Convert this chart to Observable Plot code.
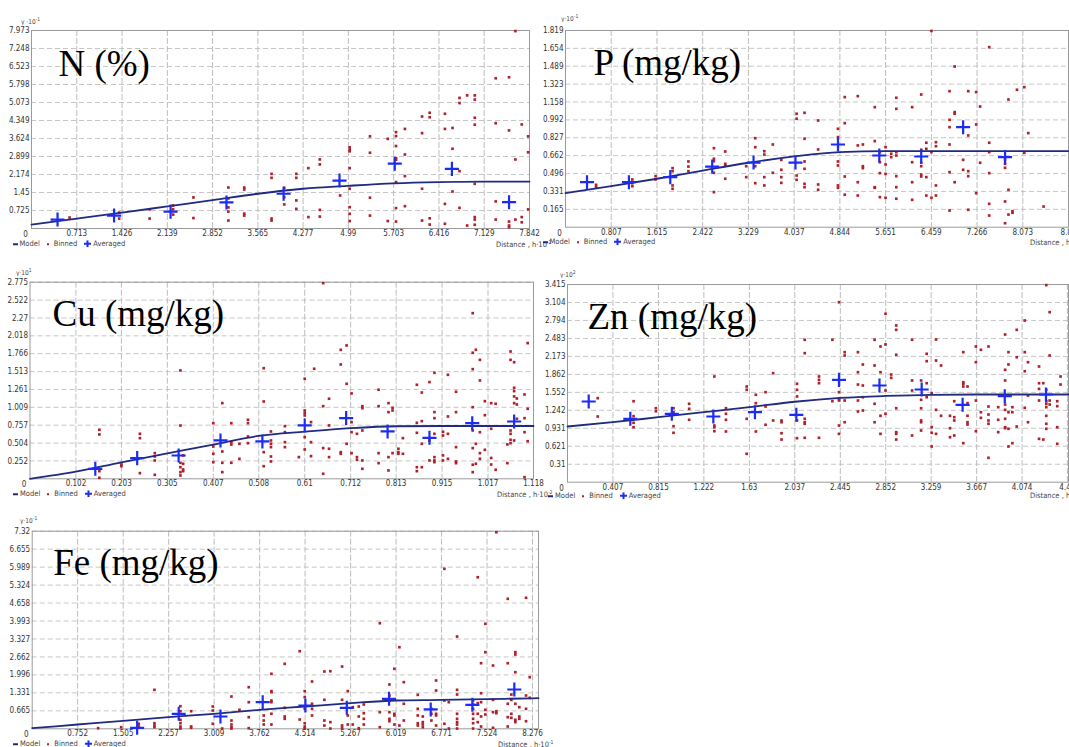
<!DOCTYPE html>
<html><head><meta charset="utf-8">
<script src="https://cdn.jsdelivr.net/npm/d3@7"></script>
<script src="https://cdn.jsdelivr.net/npm/@observablehq/plot@0.6"></script>
<style>
body{margin:0;background:#fff;}
#root{position:relative;width:1069px;height:747px;overflow:hidden;background:#fff;}
.panel{position:absolute;}
.lbl{position:absolute;font-family:"Liberation Sans Narrow","DejaVu Sans Condensed","Liberation Sans",sans-serif;font-size:7.5px;color:#444;white-space:nowrap;line-height:1;transform:translateY(-50%);}
.legend{display:flex;align-items:center;}
</style>
</head><body><div id="root"></div>
<script>
const FONT = '"Liberation Sans Narrow","DejaVu Sans Condensed","Liberation Sans",sans-serif';

// ---------- N (%) ----------
const nXTicks = ["0.713","1.426","2.139","2.852","3.565","4.277","4.99","5.703","6.416","7.129","7.842"];
const nYTicks = ["0.725","1.45","2.174","2.899","3.624","4.349","5.073","5.798","6.523","7.248","7.973"];
const nModelX = [0,0.713,1.426,2.139,2.852,3.565,4.277,4.99,5.703,6.416,7.129,7.842];
const nModelY = [0.16,0.40,0.64,0.89,1.14,1.40,1.60,1.72,1.82,1.87,1.89,1.89];
const nAveraged = [[0.41,0.36],[1.30,0.52],[2.19,0.68],[3.07,1.05],[3.97,1.40],[4.85,1.93],[5.72,2.61],[6.62,2.40],[7.52,1.06]];
const nBinned = [[0.60,0.44],[1.38,0.64],[1.38,0.40],[1.86,0.77],[1.86,0.40],[2.23,0.93],[2.23,0.77],[2.23,0.56],[2.55,1.25],[2.55,0.42],[3.10,1.65],[3.10,1.21],[3.10,0.85],[3.10,0.68],[3.10,0.32],[3.35,1.65],[3.35,1.57],[3.35,0.60],[3.35,0.52],
[3.78,2.20],[3.78,2.04],[3.78,0.40],[3.78,0.32],[3.98,1.64],[3.98,1.26],[3.98,0.97],[4.17,2.20],[4.17,2.04],[4.17,1.13],[4.17,0.79],[4.36,2.43],[4.36,0.46],[4.54,2.78],[4.54,2.58],[4.54,0.75],[4.54,0.48],[4.86,1.33],[5.01,3.27],[5.01,3.18],[5.01,3.11],[5.01,2.43],[5.01,1.60],[5.01,0.86],[5.01,0.59],[5.01,0.30],[5.33,3.71],[5.33,3.05],[5.33,1.24],[5.33,0.52],[5.61,3.61],[5.61,0.30],[5.74,3.88],[5.74,3.72],[5.74,3.32],[5.74,2.83],[5.74,2.77],[5.74,1.87],[5.74,0.82],[5.74,0.28],[5.88,4.01],[5.88,2.98],[5.88,2.11],[5.88,0.90],[6.15,4.51],[6.15,3.84],[6.15,1.60],[6.15,0.32],[6.27,4.66],[6.27,4.48],[6.27,0.41],[6.27,0.16],[6.51,4.62],[6.51,4.01],[6.51,0.99],[6.51,0.19],[6.63,4.05],[6.63,3.21],[6.63,1.49],[6.74,5.26],[6.74,5.05],[6.74,2.31],[6.74,0.83],[6.86,5.36],[6.86,0.12],[6.98,5.36],[6.98,5.19],[6.98,4.46],[6.98,4.18],[6.98,1.80],[6.98,0.46],[6.98,0.36],[6.98,0.15],[7.31,6.05],[7.31,4.24],[7.31,1.09],[7.31,0.36],[7.52,6.09],[7.52,3.95],[7.52,0.28],[7.52,0.12],[7.52,0.05],[7.62,7.95],[7.62,2.78],[7.62,0.36],[7.72,4.19],[7.72,0.46],[7.72,0.25],[7.82,3.71],[7.82,3.07],[7.82,0.77]];

// ---------- P (mg/kg) ----------
const pXTicks = ["0.807","1.615","2.422","3.229","4.037","4.844","5.651","6.459","7.266","8.073","8.88"];
const pYTicks = ["0.165","0.331","0.496","0.662","0.827","0.992","1.158","1.323","1.489","1.654","1.819"];
const pModelX = [0,0.807,1.615,2.422,3.229,4.037,4.844,5.651,6.459,7.266,8.073,8.88];
const pModelY = [0.315,0.379,0.448,0.524,0.596,0.654,0.694,0.703,0.703,0.703,0.703,0.703];
const pAveraged = [[0.38,0.416],[1.12,0.416],[1.85,0.463],[2.59,0.561],[3.32,0.598],[4.06,0.598],[4.81,0.765],[5.54,0.663],[6.28,0.654],[7.02,0.925],[7.76,0.648]];
const pBinned = [[0.54,0.392],[0.54,0.370],[1.18,0.441],[1.18,0.407],[1.18,0.379],[1.59,0.472],[1.59,0.441],[1.89,0.546],[1.89,0.518],[1.89,0.386],[1.89,0.355],[2.17,0.608],[2.17,0.561],[2.17,0.518],[2.62,0.731],[2.62,0.633],[2.62,0.611],[2.62,0.503],[2.62,0.324],[2.82,0.700],[2.82,0.586],[2.82,0.571],[2.82,0.448],[3.19,0.564],[3.19,0.463],[3.35,0.823],[3.35,0.740],[3.35,0.564],[3.35,0.407],[3.51,0.703],[3.51,0.672],[3.51,0.463],[3.51,0.386],[3.66,0.765],[3.66,0.503],[3.81,0.623],[3.81,0.531],[3.81,0.463],[3.81,0.410],[4.08,1.049],[4.08,1.003],[4.08,0.478],[4.08,0.438],[4.22,1.058],[4.22,0.818],[4.22,0.608],[4.22,0.540],[4.22,0.401],[4.22,0.370],
[4.46,0.987],[4.46,0.719],[4.46,0.395],[4.46,0.346],[4.81,0.910],[4.81,0.833],[4.81,0.608],[4.81,0.571],[4.81,0.386],[4.81,0.364],[4.93,1.203],[4.93,0.962],[4.93,0.469],[4.93,0.300],[5.16,1.212],[5.16,0.756],[5.16,0.416],[5.16,0.293],[5.25,0.765],[5.25,0.564],[5.25,0.546],[5.46,1.110],[5.46,0.796],[5.46,0.370],[5.46,0.364],[5.55,0.694],[5.55,0.601],[5.55,0.500],[5.55,0.278],[5.65,0.740],[5.65,0.580],[5.65,0.493],[5.65,0.272],[5.75,0.679],[5.75,0.648],[5.84,1.197],[5.84,1.095],[5.84,0.694],[5.84,0.663],[5.84,0.472],[5.84,0.370],[5.84,0.263],[6.12,1.110],[6.12,0.601],[6.12,0.416],[6.12,0.253],[6.28,1.227],[6.28,0.716],[6.28,0.596],[6.28,0.564],[6.28,0.487],[6.28,0.469],[6.37,0.781],[6.37,0.725],[6.37,0.463],[6.37,0.293],[6.46,1.815],[6.46,0.694],[6.46,0.272],[6.54,0.786],[6.54,0.749],[6.54,0.386],[6.54,0.293],[6.78,1.258],[6.78,0.993],[6.78,0.925],[6.78,0.765],[6.78,0.509],[6.78,0.154],[6.87,1.486],[6.87,1.064],[6.87,1.049],[6.87,0.416],[7.02,0.623],[7.02,0.531],[7.11,1.258],[7.11,0.848],[7.11,0.518],[7.11,0.472],[7.11,0.161],[7.25,1.249],[7.25,0.950],[7.25,0.315],[7.32,1.116],[7.32,0.596],[7.48,1.665],[7.48,0.781],[7.48,0.694],[7.48,0.500],[7.48,0.216],[7.48,0.108],[7.76,0.626],[7.76,0.586],[7.76,0.549],[7.76,0.238],[7.76,0.037],[7.82,1.181],[7.82,0.346],[7.82,0.117],[7.89,0.148],[7.89,0.133],[7.97,1.271],[8.10,1.295],[8.10,0.688],[8.17,0.870],[8.44,0.191]];

// ---------- Cu (mg/kg) ----------
const cuXTicks = ["0.102","0.203","0.305","0.407","0.508","0.61","0.712","0.813","0.915","1.017","1.118"];
const cuYTicks = ["0.252","0.504","0.757","1.009","1.261","1.513","1.766","2.018","2.27","2.522","2.775"];
const cuModelX = [0,0.102,0.203,0.305,0.407,0.508,0.61,0.712,0.813,0.915,1.017,1.118];
const cuModelY = [0,0.10,0.233,0.358,0.483,0.605,0.665,0.715,0.742,0.745,0.745,0.745];
const cuAveraged = [[0.145,0.141],[0.238,0.292],[0.330,0.329],[0.423,0.541],[0.516,0.527],[0.610,0.753],[0.702,0.857],[0.794,0.668],[0.887,0.579],[0.982,0.785],[1.075,0.809]];
const cuBinned = [[0.154,0.692],[0.154,0.626],[0.154,0.108],[0.154,0.014],[0.203,0.202],[0.203,0.178],[0.244,0.635],[0.244,0.574],[0.244,0.080],[0.277,0.362],[0.277,0.315],[0.277,0.259],[0.277,0.056],[0.334,1.529],[0.334,0.752],[0.334,0.226],[0.334,0.164],[0.334,0.094],[0.334,0.047],[0.340,0.330],[0.340,0.212],[0.340,0.132],[0.340,0.108],[0.407,0.785],[0.407,0.456],[0.407,0.353],[0.407,0.235],[0.427,1.068],[0.427,0.386],[0.427,0.226],[0.427,0.094],[0.447,0.785],[0.447,0.517],[0.447,0.484],[0.447,0.226],[0.465,0.494],[0.465,0.282],[0.484,0.833],[0.484,0.785],[0.484,0.597],[0.484,0.503],[0.519,1.561],[0.519,1.091],[0.519,0.376],[0.519,0.178],
[0.535,0.668],[0.535,0.541],[0.535,0.494],[0.535,0.447],[0.535,0.315],[0.535,0.245],[0.566,0.743],[0.566,0.658],[0.566,0.517],[0.566,0.447],[0.597,0.306],[0.610,1.412],[0.610,0.964],[0.610,0.927],[0.610,0.894],[0.610,0.588],[0.610,0.414],[0.624,0.800],[0.624,0.517],[0.624,0.320],[0.631,1.553],[0.651,2.762],[0.651,1.025],[0.651,0.433],[0.651,0.071],[0.664,1.130],[0.664,0.753],[0.664,0.424],[0.664,0.306],[0.690,1.821],[0.690,1.614],[0.690,0.376],[0.690,0.353],[0.703,1.882],[0.703,1.341],[0.703,0.494],[0.714,1.205],[0.714,0.800],[0.714,0.658],[0.714,0.362],[0.726,0.635],[0.726,0.306],[0.726,0.268],[0.738,1.025],[0.738,0.997],[0.738,0.682],[0.738,0.259],[0.738,0.141],[0.774,1.257],[0.774,1.025],[0.774,0.362],[0.774,0.221],[0.796,1.068],[0.796,0.941],[0.796,0.306],[0.796,0.118],[0.805,1.002],[0.805,0.964],[0.805,0.362],[0.818,0.424],[0.818,0.376],[0.818,0.353],[0.828,0.574],[0.828,0.353],[0.859,1.327],[0.859,0.790],[0.859,0.649],[0.859,0.164],[0.859,0.108],[0.870,1.218],[0.870,0.814],[0.870,0.494],[0.870,0.164],[0.887,1.365],[0.887,0.541],[0.887,0.259],[0.898,1.496],[0.898,0.941],[0.898,0.856],[0.898,0.635],[0.898,0.306],[0.898,0.259],[0.898,0.235],[0.917,0.663],[0.917,0.611],[0.917,0.330],[0.917,0.259],[0.928,1.468],[0.928,0.880],[0.928,0.635],[0.928,0.282],[0.946,1.228],[0.946,0.941],[0.946,0.447],[0.946,0.245],[0.946,0.221],[0.983,2.338],[0.983,1.779],[0.983,1.548],[0.983,1.011],[0.983,0.682],[0.983,0.433],[0.983,0.198],[0.983,0.094],[0.990,1.821],[0.990,0.494],[0.990,0.212],[0.999,1.679],[0.999,1.388],[0.999,0.658],[0.999,0.362],[0.999,0.282],[1.010,1.096],[1.010,0.898],[1.010,0.409],[1.024,1.068],[1.024,0.706],[1.024,0.294],[1.024,0.202],[1.034,1.059],[1.034,0.127],[1.060,0.485],[1.060,0.221],[1.067,1.797],[1.067,1.679],[1.067,0.682],[1.067,0.635],[1.067,0.551],[1.067,0.503],[1.075,1.646],[1.075,1.285],[1.075,1.238],[1.075,1.163],[1.075,1.068],[1.075,0.541],[1.081,1.134],[1.081,1.049],[1.081,0.847],[1.098,1.190],[1.098,0.856],[1.098,0.658],[1.098,0.023],[1.105,1.915],[1.105,0.988],[1.105,0.531]];

// ---------- Zn (mg/kg) ----------
const znXTicks = ["0.407","0.815","1.222","1.63","2.037","2.445","2.852","3.259","3.667","4.074","4.48"];
const znYTicks = ["0.31","0.621","0.931","1.242","1.552","1.862","2.173","2.483","2.794","3.104","3.415"];
const znModelX = [0,0.407,0.815,1.222,1.63,2.037,2.445,2.852,3.259,3.667,4.074,4.48,4.49];
const znModelY = [0.962,1.036,1.123,1.209,1.296,1.39,1.456,1.49,1.51,1.515,1.515,1.515,1.515];
const znAveraged = [[0.190,1.394],[0.563,1.095],[0.935,1.181],[1.307,1.135],[1.680,1.209],[2.051,1.164],[2.433,1.768],[2.796,1.670],[3.174,1.601],[3.541,1.337],[3.919,1.486],[4.288,1.515]];
const znBinned = [[0.271,1.451],[0.271,1.135],[0.592,1.399],[0.592,1.140],[0.592,1.026],[0.592,0.950],[0.792,1.278],[0.792,1.226],[0.950,1.278],[0.950,1.209],[0.950,0.967],[0.950,0.853],[1.090,1.354],[1.090,1.268],[1.090,1.078],[1.316,1.826],[1.316,0.979],[1.316,0.950],[1.316,0.881],[1.420,1.278],[1.420,1.181],[1.420,1.078],[1.420,0.876],[1.606,1.653],[1.606,1.596],[1.606,1.095],[1.606,0.490],[1.688,1.510],[1.688,1.365],[1.688,0.876],[1.775,1.555],[1.775,1.307],[1.775,0.992],[1.843,1.883],[1.843,1.066],[1.918,1.066],[1.918,1.036],[1.918,0.846],[1.918,0.737],[2.057,1.700],[2.057,1.596],[2.057,1.481],[2.057,1.066],[2.057,0.760],[2.126,2.460],[2.126,2.229],[2.126,1.095],[2.126,1.036],[2.126,1.009],[2.126,0.767],
[2.254,1.826],[2.254,1.768],[2.254,1.710],[2.254,0.767],[2.374,2.460],[2.374,1.399],[2.433,3.109],[2.433,1.555],[2.433,1.440],[2.433,1.411],[2.433,0.979],[2.433,0.835],[2.484,2.246],[2.484,2.189],[2.484,1.411],[2.484,1.036],[2.603,2.246],[2.603,1.900],[2.603,1.687],[2.603,1.411],[2.603,1.221],[2.647,2.033],[2.647,1.670],[2.647,1.468],[2.647,1.238],[2.752,2.460],[2.752,2.016],[2.752,1.354],[2.752,1.036],[2.805,2.344],[2.805,1.900],[2.805,1.147],[2.805,0.835],[2.850,2.909],[2.850,2.379],[2.850,1.584],[2.850,1.181],[2.901,1.860],[2.901,1.803],[2.946,2.707],[2.946,2.632],[2.946,2.201],[2.946,1.278],[2.946,0.864],[2.946,0.835],[2.946,0.737],[3.088,2.460],[3.088,1.757],[3.088,1.584],[3.088,0.807],[3.169,1.757],[3.169,1.423],[3.169,1.278],[3.169,1.066],[3.169,1.036],[3.169,0.893],[3.219,2.218],[3.219,2.091],[3.219,1.710],[3.219,1.468],[3.264,1.538],[3.264,0.950],[3.264,0.853],[3.264,0.617],[3.303,2.465],[3.303,2.102],[3.303,1.250],[3.303,0.835],[3.348,2.016],[3.348,1.147],[3.428,1.147],[3.428,0.933],[3.428,0.777],[3.466,1.399],[3.466,1.123],[3.466,1.066],[3.466,0.807],[3.547,2.246],[3.547,1.727],[3.547,1.700],[3.547,1.653],[3.547,0.674],[3.585,1.653],[3.585,1.365],[3.585,1.147],[3.585,1.036],[3.585,0.997],[3.660,2.344],[3.660,2.073],[3.660,1.411],[3.660,0.881],[3.705,2.287],[3.705,1.209],[3.705,1.112],[3.773,2.344],[3.773,1.307],[3.773,1.169],[3.773,1.066],[3.773,1.009],[3.773,0.421],[3.860,1.296],[3.860,1.078],[3.860,0.864],[3.922,2.551],[3.922,1.941],[3.922,1.757],[3.922,1.342],[3.922,1.250],[3.922,1.095],[3.922,0.950],[3.922,0.933],[3.952,2.246],[3.952,2.033],[3.952,1.209],[3.952,0.922],[3.952,0.617],[3.987,1.296],[3.987,1.209],[3.987,0.674],[4.026,2.632],[4.026,2.159],[4.026,0.962],[4.098,2.793],[4.098,2.246],[4.098,1.917],[4.098,1.285],[4.127,2.073],[4.127,1.497],[4.127,1.036],[4.226,1.999],[4.226,1.710],[4.226,1.612],[4.226,1.411],[4.226,0.749],[4.264,1.710],[4.264,0.737],[4.291,3.405],[4.291,1.596],[4.291,1.399],[4.291,1.354],[4.291,1.296],[4.291,1.147],[4.291,1.009],[4.291,0.922],[4.321,2.937],[4.321,2.189],[4.321,1.411],[4.321,1.342],[4.389,1.399],[4.389,1.313],[4.389,0.950],[4.389,0.663],[4.419,1.826],[4.419,1.687]];

// ---------- Fe (mg/kg) ----------
const feXTicks = ["0.752","1.505","2.257","3.009","3.762","4.514","5.267","6.019","6.771","7.524","8.276"];
const feYTicks = ["0.665","1.331","1.996","2.662","3.327","3.993","4.658","5.324","5.989","6.655","7.32"];
const feModelX = [0,0.752,1.505,2.257,3.009,3.762,4.514,5.267,6.019,6.771,7.524,8.276,8.375];
const feModelY = [0.022,0.159,0.296,0.430,0.556,0.704,0.826,0.950,1.048,1.07,1.10,1.13,1.135];
const feAveraged = [[1.736,0.037],[2.424,0.556],[3.114,0.456],[3.813,0.985],[4.519,0.863],[5.204,0.778],[5.903,1.111],[6.592,0.716],[7.281,0.889],[7.975,1.456]];
const feBinned = [[1.091,0.022],[1.471,0.059],[1.763,0.185],[1.763,0.085],[2.022,1.444],[2.022,0.207],[2.022,0.122],[2.022,0.059],[2.452,0.837],[2.452,0.652],[2.452,0.333],[2.452,0.207],[2.452,0.085],[2.452,0.010],[2.629,0.652],[2.629,0.085],[2.629,0.037],[2.987,0.826],[2.987,0.678],[2.987,0.185],[3.142,0.010],[3.296,1.196],[3.296,0.307],[3.296,0.159],[3.296,0.059],[3.296,0.010],[3.428,0.704],[3.582,1.541],[3.582,0.985],[3.582,0.430],[3.582,0.022],[3.830,0.493],[3.830,0.307],[3.830,0.159],
[3.957,2.037],[3.957,1.395],[3.957,1.358],[3.957,1.048],[3.957,0.985],[3.957,0.556],[3.957,0.159],[4.177,2.407],[4.177,0.778],[4.177,0.456],[4.177,0.370],[4.425,2.874],[4.425,0.344],[4.508,1.395],[4.508,1.173],[4.508,0.741],[4.508,0.207],[4.508,0.085],[4.508,0.010],[4.629,1.752],[4.629,0.926],[4.629,0.741],[4.629,0.493],[4.833,2.122],[4.833,1.074],[4.833,0.307],[4.833,0.122],[4.932,2.133],[4.932,0.247],[4.932,0.010],[5.126,2.307],[5.126,1.074],[5.126,0.122],[5.126,0.037],[5.220,1.395],[5.220,0.493],[5.220,0.159],[5.303,0.800],[5.303,0.159],[5.402,0.826],[5.402,0.456],[5.402,0.022],[5.485,0.900],[5.485,0.578],[5.485,0.370],[5.485,0.159],[5.750,3.911],[5.750,0.615],[5.750,0.059],[5.909,1.641],[5.909,1.233],[5.909,1.048],[5.909,0.615],[5.909,0.370],[5.909,0.281],[5.991,2.222],[5.991,0.556],[5.991,0.493],[5.991,0.159],[6.074,3.022],[6.074,0.122],[6.147,1.728],[6.147,0.926],[6.147,0.307],[6.378,1.259],[6.378,0.741],[6.378,0.493],[6.378,0.207],[6.378,0.122],[6.461,0.456],[6.461,0.247],[6.461,0.159],[6.461,0.059],[6.603,0.741],[6.603,0.556],[6.603,0.307],[6.681,1.789],[6.681,1.418],[6.681,0.556],[6.681,0.493],[6.681,0.122],[6.818,5.926],[6.818,1.048],[6.818,0.185],[6.891,0.985],[6.891,0.010],[7.028,3.418],[7.028,1.444],[7.028,1.270],[7.028,0.556],[7.028,0.370],[7.028,0.247],[7.028,0.159],[7.028,0.010],[7.293,1.048],[7.293,0.900],[7.293,0.741],[7.293,0.556],[7.293,0.370],[7.293,0.207],[7.293,0.010],[7.370,5.615],[7.370,0.950],[7.370,0.556],[7.370,0.247],[7.425,2.430],[7.425,1.319],[7.425,0.985],[7.425,0.456],[7.425,0.085],[7.496,3.889],[7.496,2.838],[7.496,0.704],[7.496,0.530],[7.623,2.344],[7.623,1.074],[7.623,0.615],[7.623,0.037],[7.678,7.281],[7.678,0.652],[7.678,0.578],[7.866,4.815],[7.866,2.430],[7.866,0.926],[7.866,0.430],[7.866,0.085],[7.926,1.270],[7.926,1.074],[7.926,0.556],[7.926,0.407],[7.992,2.838],[7.992,2.752],[7.992,2.096],[7.992,0.926],[7.992,0.333],[7.992,0.247],[8.058,0.800],[8.058,0.456],[8.058,0.370],[8.169,4.852],[8.169,1.233],[8.169,0.741],[8.169,0.281],[8.230,1.911],[8.230,1.148]];

const NAVY = "#1f2a80", RED = "#b0202a", BLUE = "#1c2cf2";
const root = document.getElementById("root");

function addLabel(html, left, top, cls, size) {
  const d = document.createElement("div");
  d.className = "lbl" + (cls ? " " + cls : "");
  d.style.left = left + "px";
  d.style.top = top + "px";
  if (size) d.style.fontSize = size + "px";
  d.innerHTML = html;
  root.appendChild(d);
}

function panel(c) {
  const xT = c.xTicks.map(Number), yT = c.yTicks.map(Number);
  const model = c.modelX.map((x, i) => ({x, y: c.modelY[i]}));
  const fig = Plot.plot({
    width: c.width, height: c.height,
    marginLeft: c.mL, marginRight: c.mR, marginTop: c.mT, marginBottom: c.mB,
    x: {domain: [0, c.xMax], label: null},
    y: {domain: [0, c.yMax], label: null},
    style: {fontFamily: FONT, fontSize: "8px", color: "#333", overflow: "visible", background: "transparent"},
    marks: [
      Plot.gridY(yT, {stroke: "#c6c6c6", strokeOpacity: 1, strokeDasharray: "5,3"}),
      Plot.gridX(xT, {stroke: "#bdbdbd", strokeOpacity: 1, strokeDasharray: "6,2"}),
      Plot.frame({stroke: "#9a9a9a"}),
      Plot.axisX(xT, {tickSize: 0, tickPadding: 2, tickFormat: d => String(d), fill: "#333", fontSize: 8, label: null}),
      Plot.axisY(yT, {tickSize: 0, tickPadding: 2, tickFormat: d => String(d), fill: "#333", fontSize: 8, label: null}),
      Plot.text([{x: 0, y: 0, t: "0"}], {x: "x", y: "y", text: "t", dx: -6, dy: 6, fill: "#333", fontSize: 8}),
      Plot.text([c.title], {frameAnchor: "top-left", dx: c.tdx, dy: c.tdy, text: d => d, fontSize: 37,
        fontFamily: '"Liberation Serif","DejaVu Serif",serif', fill: "#000", textAnchor: "start", lineAnchor: "bottom"}),
      Plot.dot(c.binned, {x: d => d[0], y: d => d[1], symbol: "square", r: 1.5, fill: RED, stroke: null}),
      Plot.line(model, {x: "x", y: "y", stroke: NAVY, strokeWidth: 1.8, curve: "monotone-x"}),
      Plot.dot(c.avg, {x: d => d[0], y: d => d[1], symbol: "plus", r: 4.6, stroke: BLUE, strokeWidth: 2.2})
    ]
  });
  const wrap = document.createElement("div");
  wrap.className = "panel";
  wrap.style.left = c.left + "px";
  wrap.style.top = c.top + "px";
  wrap.style.width = c.width + "px";
  wrap.appendChild(fig);
  root.appendChild(wrap);

  addLabel(c.gamma, c.gx, c.gy, null, 6.5);
  addLabel('<span style="display:inline-block;width:5px;height:2px;background:' + NAVY + ';margin-right:2px"></span>Model' +
    '<span style="display:inline-block;width:2px;height:2px;background:' + RED + ';margin:0 5px 0 7px"></span>Binned' +
    '<svg width="7" height="7" style="margin:0 2px 0 7px"><path d="M3.5 0V7M0 3.5H7" stroke="' + BLUE + '" stroke-width="2"/></svg>Averaged',
    c.lx, c.ly, "legend");
  addLabel(c.dist, c.dx, c.dy);
}

panel({left: 0, top: 0, width: 535, height: 250, mL: 31, mR: 6, mT: 30, mB: 22,
  xMax: 7.842, yMax: 7.973, xTicks: nXTicks, yTicks: nYTicks, modelX: nModelX, modelY: nModelY,
  binned: nBinned, avg: nAveraged, title: "N (%)", tdx: 27, tdy: 45,
  gamma: "γ ·10<sup style='font-size:5px'>-1</sup>", gx: 21, gy: 21,
  lx: 12.5, ly: 244, dist: "Distance , h·10<sup style='font-size:5px'>-2</sup>", dx: 496, dy: 244});

panel({left: 540, top: 0, width: 529, height: 250, mL: 25, mR: 1, mT: 30, mB: 23.3,
  xMax: 8.88, yMax: 1.819, xTicks: pXTicks, yTicks: pYTicks, modelX: pModelX, modelY: pModelY,
  binned: pBinned, avg: pAveraged, title: "P (mg/kg)", tdx: 28, tdy: 44,
  gamma: "γ·10<sup style='font-size:5px'>-1</sup>", gx: 561, gy: 18,
  lx: 542.5, ly: 242, dist: "Distance , h·10<sup style='font-size:5px'>-1</sup>", dx: 1030, dy: 242});

panel({left: 0, top: 260, width: 540, height: 240, mL: 29.5, mR: 7, mT: 21.7, mB: 21.7,
  xMax: 1.118, yMax: 2.775, xTicks: cuXTicks, yTicks: cuYTicks, modelX: cuModelX, modelY: cuModelY,
  binned: cuBinned, avg: cuAveraged, title: "Cu (mg/kg)", tdx: 22.5, tdy: 43.3,
  gamma: "γ·10<sup style='font-size:5px'>1</sup>", gx: 16, gy: 272,
  lx: 13, ly: 494, dist: "Distance , h·10<sup style='font-size:5px'>-2</sup>", dx: 497, dy: 494});

panel({left: 540, top: 260, width: 529, height: 240, mL: 27, mR: 1, mT: 24, mB: 18.3,
  xMax: 4.49, yMax: 3.415, xTicks: znXTicks, yTicks: znYTicks, modelX: znModelX, modelY: znModelY,
  binned: znBinned, avg: znAveraged, title: "Zn (mg/kg)", tdx: 20, tdy: 44,
  gamma: "γ·10<sup style='font-size:5px'>2</sup>", gx: 560, gy: 274,
  lx: 548, ly: 496, dist: "Distance , h·10<sup style='font-size:5px'>-1</sup>", dx: 1030, dy: 495});

panel({left: 0, top: 500, width: 545, height: 247, mL: 31.7, mR: 7, mT: 30.7, mB: 18.7,
  xMax: 8.375, yMax: 7.32, xTicks: feXTicks, yTicks: feYTicks, modelX: feModelX, modelY: feModelY,
  binned: feBinned, avg: feAveraged, title: "Fe (mg/kg)", tdx: 21, tdy: 44,
  gamma: "γ·10<sup style='font-size:5px'>-1</sup>", gx: 20, gy: 520,
  lx: 13, ly: 744, dist: "Distance , h·10<sup style='font-size:5px'>-1</sup>", dx: 498, dy: 744});
</script>
</body></html>
